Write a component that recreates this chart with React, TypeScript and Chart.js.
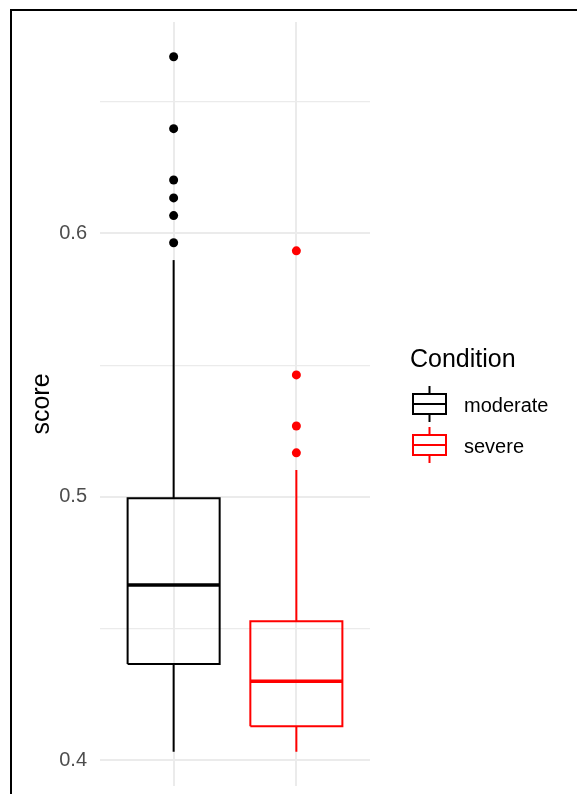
import React, { useEffect, useRef } from 'react';
import { Chart, registerables } from 'chart.js';

Chart.register(...registerables);

// ---- data ----
const categories = ['moderate', 'severe'];
const seriesColors = ['#000000', '#FF0000'];
const q1Values = [0.4365, 0.4129];
const medianValues = [0.4665, 0.43];
const q3Values = [0.4995, 0.4528];
const whiskerLowValues = [0.4032, 0.4032];
const whiskerHighValues = [0.5899, 0.5102];
const outliersModerate = [0.6671, 0.6398, 0.6203, 0.6135, 0.6068, 0.5965];
const outliersSevere = [0.5934, 0.5463, 0.5269, 0.5167];
const outlierLists = [outliersModerate, outliersSevere];
const yTickValues = [0.4, 0.45, 0.5, 0.55, 0.6, 0.65];
const yTickLabels = ['0.4', '', '0.5', '', '0.6', ''];
const legendTitle = 'Condition';
const yAxisTitle = 'score';

const FONT = '"Liberation Sans", Arial, Helvetica, sans-serif';
const HALF_BOX = 0.375;

function buildDatasets() {
  const ds: any[] = [];
  categories.forEach((cat, i) => {
    const x = i + 1;
    const c = seriesColors[i];
    const line = {
      type: 'scatter',
      showLine: true,
      borderColor: c,
      backgroundColor: c,
      pointRadius: 0,
      pointHoverRadius: 0,
      fill: false,
      borderJoinStyle: 'miter',
      borderCapStyle: 'butt',
    };
    // whiskers
    ds.push({ ...line, label: cat + ' upper whisker', borderWidth: 2, data: [{ x, y: q3Values[i] }, { x, y: whiskerHighValues[i] }] });
    ds.push({ ...line, label: cat + ' lower whisker', borderWidth: 2, data: [{ x, y: q1Values[i] }, { x, y: whiskerLowValues[i] }] });
    // box
    ds.push({
      ...line,
      label: cat + ' box',
      borderWidth: 2,
      data: [
        { x: x - HALF_BOX, y: q1Values[i] },
        { x: x - HALF_BOX, y: q3Values[i] },
        { x: x + HALF_BOX, y: q3Values[i] },
        { x: x + HALF_BOX, y: q1Values[i] },
        { x: x - HALF_BOX, y: q1Values[i] },
      ],
    });
    // median
    ds.push({ ...line, label: cat + ' median', borderWidth: 3.6, data: [{ x: x - HALF_BOX, y: medianValues[i] }, { x: x + HALF_BOX, y: medianValues[i] }] });
    // outliers
    ds.push({
      type: 'scatter',
      label: cat + ' outliers',
      showLine: false,
      pointRadius: 4.5,
      pointHoverRadius: 4.5,
      borderWidth: 0,
      backgroundColor: c,
      borderColor: c,
      data: outlierLists[i].map((y) => ({ x, y })),
    });
  });
  return ds;
}

const legendPlugin = {
  id: 'ggLegend',
  afterDraw(chart: any) {
    const ctx = chart.ctx as CanvasRenderingContext2D;
    ctx.save();
    ctx.fillStyle = '#000000';
    ctx.font = `25px ${FONT}`;
    ctx.textAlign = 'left';
    ctx.textBaseline = 'alphabetic';
    ctx.fillText(legendTitle, 410, 367);
    const keyLeft = 413;
    const keyRight = 446;
    const keyMid = (keyLeft + keyRight) / 2;
    const centers = [404, 445];
    categories.forEach((cat, i) => {
      const cy = centers[i];
      ctx.strokeStyle = seriesColors[i];
      ctx.lineWidth = 2;
      ctx.lineJoin = 'miter';
      ctx.beginPath();
      ctx.moveTo(keyMid, cy - 18);
      ctx.lineTo(keyMid, cy - 10);
      ctx.moveTo(keyMid, cy + 10);
      ctx.lineTo(keyMid, cy + 18);
      ctx.stroke();
      ctx.strokeRect(keyLeft, cy - 10, keyRight - keyLeft, 20);
      ctx.beginPath();
      ctx.moveTo(keyLeft, cy);
      ctx.lineTo(keyRight, cy);
      ctx.stroke();
      ctx.fillStyle = '#000000';
      ctx.font = `20px ${FONT}`;
      ctx.textBaseline = 'middle';
      ctx.fillText(cat, 464, cy + 2);
    });
    ctx.restore();
  },
};

export default function App() {
  const canvasRef = useRef<HTMLCanvasElement | null>(null);

  useEffect(() => {
    const canvas = canvasRef.current;
    if (!canvas) return;
    const chart = new Chart(canvas, {
      type: 'scatter',
      data: { datasets: buildDatasets() },
      options: {
        animation: false,
        responsive: false,
        devicePixelRatio: 1,
        events: [],
        layout: { padding: { left: 0, top: 22, right: 207, bottom: 8 } },
        plugins: {
          legend: { display: false },
          tooltip: { enabled: false },
          title: { display: false },
        },
        scales: {
          x: {
            type: 'linear',
            min: 0.4,
            max: 2.6,
            border: { display: false },
            ticks: { display: false },
            grid: { color: '#EBEBEB', lineWidth: 2, drawTicks: false },
            afterBuildTicks: (scale: any) => {
              scale.ticks = categories.map((_, i) => ({ value: i + 1 }));
            },
            afterFit: (scale: any) => {
              scale.height = 0;
              scale.paddingLeft = 0;
              scale.paddingRight = 0;
              scale.paddingTop = 0;
              scale.paddingBottom = 0;
            },
          },
          y: {
            type: 'linear',
            min: 0.3902,
            max: 0.6803,
            border: { display: false },
            grid: {
              color: '#EBEBEB',
              drawTicks: false,
              lineWidth: (ctx: any) => (yTickLabels[ctx.index] ? 2 : 1.2),
            },
            afterBuildTicks: (scale: any) => {
              scale.ticks = yTickValues.map((v) => ({ value: v }));
            },
            ticks: {
              padding: 13,
              color: '#4D4D4D',
              font: { family: FONT, size: 20 },
              callback: (_v: any, index: number) => yTickLabels[index],
            },
            title: {
              display: true,
              text: yAxisTitle,
              color: '#000000',
              font: { family: FONT, size: 25 },
              padding: { top: 27, bottom: 0 },
            },
            afterFit: (scale: any) => {
              scale.width = 100;
              scale.paddingTop = 0;
              scale.paddingBottom = 0;
              scale.paddingLeft = 0;
              scale.paddingRight = 0;
            },
          },
        },
      } as any,
      plugins: [legendPlugin],
    });
    return () => chart.destroy();
  }, []);

  return (
    <>
      <div
        style={{
          position: 'fixed',
          left: 10,
          top: 9,
          width: 700,
          height: 900,
          borderLeft: '2px solid #000',
          borderTop: '2px solid #000',
          background: '#fff',
        }}
      />
      <canvas
        ref={canvasRef}
        width={577}
        height={794}
        style={{ position: 'fixed', left: 0, top: 0, width: 577, height: 794 }}
      />
    </>
  );
}
